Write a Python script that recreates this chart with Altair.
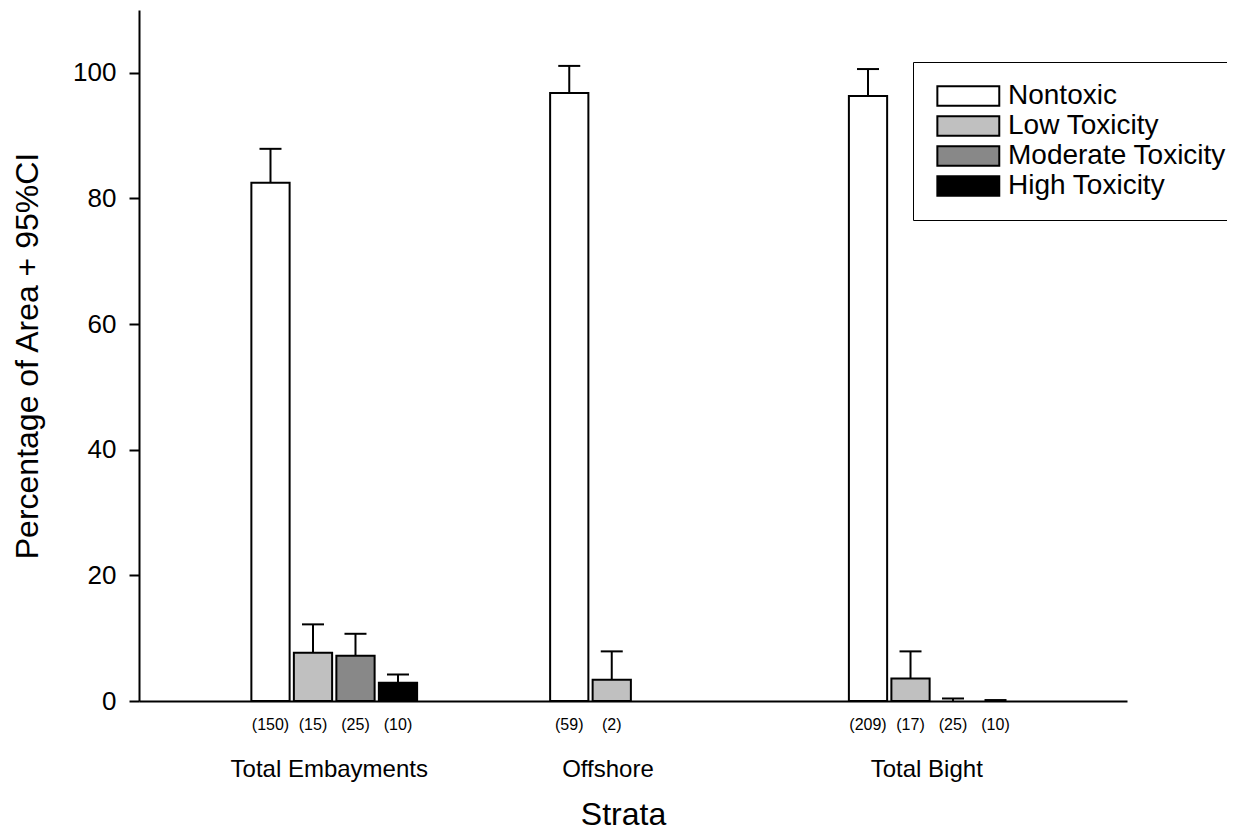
import altair as alt
import pandas as pd

FONT = "Liberation Sans"

groups = ["Total Embayments", "Offshore", "Total Bight"]
levels = ["Nontoxic", "Low Toxicity", "Moderate Toxicity", "High Toxicity"]
fills = ["#ffffff", "#c0c0c0", "#888888", "#000000"]

row_group = ["Total Embayments"] * 4 + ["Offshore"] * 2 + ["Total Bight"] * 4
row_level = levels + levels[:2] + levels
pct = [82.5, 7.7, 7.2, 2.9, 96.8, 3.4, 96.3, 3.6, 0.0, 0.0]
upper_ci = [87.9, 12.2, 10.7, 4.2, 101.1, 7.9, 100.6, 7.9, 0.4, 0.15]
counts = ["(150)", "(15)", "(25)", "(10)", "(59)", "(2)", "(209)", "(17)", "(25)", "(10)"]

df = pd.DataFrame({
    "group": row_group,
    "level": row_level,
    "value": pct,
    "upper": upper_ci,
    "n": counts,
})

x_enc = alt.X(
    "group:N",
    sort=groups,
    scale=alt.Scale(domain=groups, paddingInner=0.431, paddingOuter=0.369),
    axis=alt.Axis(
        title="Strata",
        ticks=False,
        tickSize=0,
        labelAngle=0,
        labelFontSize=24,
        labelPadding=56,
        labelLimit=400,
        labelColor="black",
        labelFont=FONT,
        labelOffset={"expr": "datum.value == 'Offshore' ? -25 : -5"},
        domainColor="black",
        domainWidth=2,
        titleFontSize=32,
        titleFont=FONT,
        titleFontWeight="normal",
        titleColor="black",
        titlePadding=18,
        titleX=484,
    ),
)
xoff = alt.XOffset(
    "level:N",
    sort=levels,
    scale=alt.Scale(domain=levels, paddingInner=0.1, paddingOuter=0.05),
)
y_enc = alt.Y(
    "value:Q",
    scale=alt.Scale(domain=[0, 110], nice=False),
    axis=alt.Axis(
        values=[0, 20, 40, 60, 80, 100],
        title="Percentage of Area + 95%CI",
        titleFontSize=32,
        titleFont=FONT,
        titleFontWeight="normal",
        titleColor="black",
        titlePadding=28,
        labelFontSize=26,
        labelFont=FONT,
        labelColor="black",
        labelPadding=13,
        tickSize=10,
        tickWidth=2,
        tickColor="black",
        domainColor="black",
        domainWidth=2,
        grid=False,
    ),
)

base = alt.Chart(df)

bars = base.transform_filter("datum.value > 0").mark_bar(
    stroke="black", strokeWidth=2, opacity=1
).encode(
    x=x_enc,
    xOffset=xoff,
    y=y_enc,
    color=alt.Color(
        "level:N",
        sort=levels,
        scale=alt.Scale(domain=levels, range=fills),
        legend=alt.Legend(
            title=None,
            orient="none",
            legendX=774,
            legendY=52,
            symbolType="M-1,-1L5.42,-1L5.42,1L-1,1Z",
            symbolSize=372,
            symbolStrokeColor="black",
            symbolStrokeWidth=2,
            symbolOpacity=1,
            labelFontSize=28,
            labelFont=FONT,
            labelColor="black",
            labelOffset=47,
            labelLimit=400,
            padding=20,
            rowPadding=2,
            strokeColor="black",
            fillColor="white",
        ),
    ),
)

stems = base.transform_filter("isValid(datum.upper)").mark_rule(
    color="black", strokeWidth=2
).encode(
    x=alt.X("group:N", sort=groups),
    xOffset=alt.XOffset("level:N", sort=levels),
    y=alt.Y("value:Q"),
    y2=alt.Y2("upper:Q"),
)

caps = base.transform_filter("isValid(datum.upper)").mark_tick(
    color="black", thickness=2, size=22, opacity=1
).encode(
    x=alt.X("group:N", sort=groups),
    xOffset=alt.XOffset("level:N", sort=levels),
    y=alt.Y("upper:Q"),
)

labels = base.mark_text(
    fontSize=16, font=FONT, color="black", baseline="middle", align="center"
).encode(
    x=alt.X("group:N", sort=groups),
    xOffset=alt.XOffset("level:N", sort=levels),
    y=alt.value(715),
    text="n:N",
)

chart = alt.layer(bars, stems, caps, labels).properties(
    width=988,
    height=691,
    padding={"left": 131, "top": 2, "right": 100, "bottom": 131},
    autosize=alt.AutoSizeParams(type="none"),
    background="white",
).configure_view(stroke=None)

chart.save("out.html", embed_options={"renderer": "svg", "actions": False})
